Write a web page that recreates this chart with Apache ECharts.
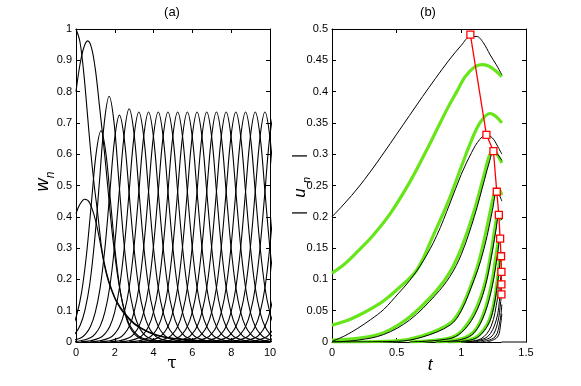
<!DOCTYPE html>
<html>
<head>
<meta charset="utf-8">
<script src="https://cdn.jsdelivr.net/npm/echarts@6/dist/echarts.min.js"></script>
<style>
html,body{margin:0;padding:0;background:#fff;}
#main{width:581px;height:386px;}
</style>
</head>
<body>
<div id="main"></div>
<script>
// (a) 左图 前三条不规则曲线
var tauA=[0,0.2,0.4,0.6,0.74,0.94,1.1,1.3,1.42,1.6,1.8,2.1,2.5,3,3.5,4,4.5,5,6,7,8,10];
var wA=[1,0.96,0.86,0.72,0.62,0.5,0.42,0.31,0.265,0.215,0.175,0.13,0.093,0.06,0.04,0.026,0.017,0.012,0.006,0.003,0.002,0.001];
var tauB=[0,0.2,0.4,0.6,0.8,1.0,1.2,1.46,1.63,1.9,2.2,2.5,2.8,3.2,3.6,4.2,5,10];
var wB=[0.8,0.885,0.94,0.962,0.94,0.87,0.76,0.61,0.5,0.33,0.19,0.1,0.05,0.02,0.008,0.003,0.001,0];
var tauC=[0,0.2,0.45,0.7,1.0,1.3,1.42,1.6,1.8,2.1,2.5,3,3.5,4,4.5,5,6,7,8,10];
var wC=[0.41,0.44,0.456,0.445,0.39,0.3,0.258,0.209,0.17,0.126,0.089,0.057,0.038,0.024,0.016,0.011,0.005,0.003,0.002,0.001];
// 后续脉冲：峰值时刻、峰值、脉冲形状（相对峰值）
var pulsePeak=[1.29,1.71,2.24,2.74,3.24,3.74,4.24,4.74,5.24,5.74,6.24,6.74,7.24,7.74,8.24,8.74,9.24,9.74,10.24,10.74,11.24,11.74,12.24];
var pulseAmp=[0.675,0.785,0.725,0.745,0.735,0.735,0.735,0.735,0.735,0.735,0.735,0.735,0.735,0.735,0.735,0.735,0.735,0.735,0.735,0.735,0.735,0.735,0.735];
var shapeOff=[-3,-2.5,-2,-1.75,-1.5,-1.25,-1,-0.75,-0.5,-0.25,0,0.25,0.5,0.75,1,1.25,1.5,1.75,2,2.5,3];
var shapeVal=[0.001,0.005,0.018,0.035,0.067,0.129,0.236,0.413,0.654,0.894,1,0.894,0.654,0.413,0.236,0.129,0.067,0.035,0.018,0.005,0.001];

// (b) 右图 黑线
var tB1=[0,0.1,0.2,0.3,0.4,0.5,0.6,0.7,0.8,0.9,1.0,1.07,1.12,1.17,1.222,1.27,1.313];
var uB1=[0.2,0.222,0.246,0.273,0.302,0.332,0.362,0.392,0.421,0.449,0.474,0.488,0.488,0.478,0.459,0.443,0.427];
var tB2=[0,0.1,0.2,0.3,0.4,0.515,0.6,0.707,0.81,0.913,1.0,1.08,1.14,1.194,1.24,1.28,1.313];
var uB2=[0.001,0.01,0.022,0.036,0.052,0.078,0.098,0.13,0.17,0.222,0.268,0.303,0.323,0.331,0.326,0.313,0.3];
var tB3=[0,0.2,0.4,0.6,0.8,0.913,1.0,1.1,1.18,1.22,1.248,1.28,1.313];
var uB3=[0,0.003,0.012,0.035,0.075,0.105,0.14,0.2,0.26,0.29,0.305,0.3,0.29];
var tB4=[0,0.5,0.7,0.913,1.0,1.1,1.15,1.2,1.24,1.274,1.3,1.313];
var uB4=[0,0.001,0.008,0.027,0.05,0.1,0.13,0.17,0.21,0.24,0.232,0.225];
var tB5=[0.6,0.9,1.0,1.1,1.18,1.24,1.27,1.29,1.313];
var uB5=[0,0.005,0.015,0.042,0.085,0.145,0.182,0.203,0.195];
var tB6=[0.8,1.0,1.1,1.18,1.24,1.28,1.3,1.313];
var uB6=[0,0.004,0.015,0.045,0.09,0.14,0.165,0.16];
var tB7=[0.9,1.1,1.2,1.25,1.29,1.307,1.313];
var uB7=[0,0.005,0.025,0.055,0.11,0.137,0.135];
var tB8=[1.0,1.15,1.23,1.28,1.31];
var uB8=[0,0.005,0.025,0.07,0.112];
var tB9=[1.05,1.2,1.27,1.3,1.31];
var uB9=[0,0.008,0.035,0.075,0.092];
var tB10=[1.1,1.23,1.28,1.305,1.31];
var uB10=[0,0.008,0.03,0.065,0.076];
var tB11=[1.15,1.26,1.3,1.313];
var uB11=[0,0.008,0.035,0.06];
var tB12=[1.2,1.28,1.305,1.313];
var uB12=[0,0.008,0.03,0.045];
// 绿线
var tG1=[0,0.1,0.2,0.32,0.45,0.6,0.733,0.81,0.9,0.965,1.03,1.1,1.158,1.21,1.26,1.313];
var uG1=[0.11,0.125,0.145,0.171,0.205,0.255,0.307,0.339,0.376,0.4,0.424,0.439,0.443,0.441,0.434,0.424];
var tG2=[0,0.1,0.2,0.3,0.4,0.5,0.656,0.785,0.9,1.0,1.08,1.15,1.222,1.27,1.313];
var uG2=[0.027,0.033,0.042,0.053,0.066,0.083,0.115,0.171,0.225,0.28,0.323,0.352,0.365,0.36,0.35];
var tG3=[0,0.2,0.4,0.6,0.8,0.913,1.0,1.1,1.18,1.222,1.26,1.29,1.313];
var uG3=[0.003,0.006,0.015,0.04,0.08,0.112,0.15,0.21,0.27,0.3,0.303,0.295,0.286];
var tG4=[0,0.5,0.7,0.913,1.0,1.1,1.15,1.2,1.235,1.261,1.29,1.313];
var uG4=[0,0.002,0.01,0.03,0.054,0.105,0.14,0.185,0.22,0.24,0.243,0.235];
var tG5=[0.6,0.9,1.0,1.1,1.18,1.23,1.26,1.28,1.313];
var uG5=[0,0.006,0.017,0.047,0.092,0.143,0.182,0.2,0.195];
var tG6=[0.8,1.0,1.1,1.18,1.24,1.27,1.295,1.313];
var uG6=[0,0.005,0.017,0.05,0.1,0.14,0.163,0.16];
var tG7=[0.9,1.1,1.2,1.25,1.285,1.3,1.313];
var uG7=[0,0.006,0.028,0.06,0.11,0.133,0.13];
// 横轴上的灰线
var tFlat=[1.31,1.5];
var uFlat=[0,0];
// 红线方块标记（各黑线峰值）
var tPeak=[1.07,1.194,1.248,1.274,1.29,1.30,1.307,1.31,1.31,1.31];
var uPeak=[0.491,0.331,0.305,0.24,0.203,0.165,0.137,0.112,0.092,0.076];

function pairs(xs,ys){
	var out=[];
	for(var i=0;i<xs.length;i++){out.push([xs[i],ys[i]]);}
	return out;
}
function line(data,idx,color,width,z){
	return {
		type:'line',
		xAxisIndex:idx,
		yAxisIndex:idx,
		data:data,
		smooth:0.35,
		symbol:'none',
		silent:true,
		z:z||2,
		lineStyle:{color:color,width:width}
	};
}
function axisX(grid,pos,min,max,step,labels){
	return {
		type:'value',gridIndex:grid,position:pos,min:min,max:max,interval:step,
		axisLine:{show:true,onZero:false,lineStyle:{color:'#000',width:1}},
		axisTick:{show:true,inside:true,length:4,lineStyle:{color:'#000'}},
		axisLabel:{show:labels,color:'#000',fontSize:11,fontFamily:'Liberation Sans',margin:5},
		splitLine:{show:false}
	};
}
function axisY(grid,pos,min,max,step,labels){
	return {
		type:'value',gridIndex:grid,position:pos,min:min,max:max,interval:step,
		axisLine:{show:true,onZero:false,lineStyle:{color:'#000',width:1}},
		axisTick:{show:true,inside:true,length:4,lineStyle:{color:'#000'}},
		axisLabel:{show:labels,color:'#000',fontSize:11,fontFamily:'Liberation Sans',margin:4},
		splitLine:{show:false}
	};
}

var series=[];
// 左图
series.push(line(pairs(tauA,wA),0,'#000',1.1));
series.push(line(pairs(tauB,wB),0,'#000',1.1));
series.push(line(pairs(tauC,wC),0,'#000',1.1));
for(var k=0;k<pulsePeak.length;k++){
	var pts=[];
	for(var j=0;j<shapeOff.length;j++){
		pts.push([pulsePeak[k]+shapeOff[j],pulseAmp[k]*shapeVal[j]]);
	}
	series.push(line(pts,0,'#000',1.1));
}
// 右图 绿线在下，黑线在上
series.push(line(pairs(tFlat,uFlat),2,'#808080',2,1));
var greens=[[tG1,uG1],[tG2,uG2],[tG3,uG3],[tG4,uG4],[tG5,uG5],[tG6,uG6],[tG7,uG7]];
greens.forEach(function(g){series.push(line(pairs(g[0],g[1]),2,'#66e619',3.2,2));});
var blacks=[[tB1,uB1],[tB2,uB2],[tB3,uB3],[tB4,uB4],[tB5,uB5],[tB6,uB6],[tB7,uB7],[tB8,uB8],[tB9,uB9],[tB10,uB10],[tB11,uB11],[tB12,uB12]];
blacks.forEach(function(b){series.push(line(pairs(b[0],b[1]),2,'#000',1,3));});
series.push({
	type:'line',xAxisIndex:2,yAxisIndex:2,z:5,silent:true,
	data:pairs(tPeak,uPeak),
	symbol:'rect',symbolSize:7,
	lineStyle:{color:'#ff0000',width:1.3},
	itemStyle:{color:'#fff',borderColor:'#ff0000',borderWidth:1.3}
});

var myChart=echarts.init(document.getElementById('main'),null,{renderer:'canvas'});
var option={
	animation:false,
	backgroundColor:'#fff',
	grid:[
		{left:76,top:29,width:194,height:313},
		{left:332,top:29,width:194,height:313}
	],
	xAxis:[
		axisX(0,'bottom',0,10,2,true),
		axisX(0,'top',0,10,2,false),
		axisX(1,'bottom',0,1.5,0.5,true),
		axisX(1,'top',0,1.5,0.5,false)
	],
	yAxis:[
		axisY(0,'left',0,1,0.1,true),
		axisY(0,'right',0,1,0.1,false),
		axisY(1,'left',0,0.5,0.05,true),
		axisY(1,'right',0,0.5,0.05,false)
	],
	graphic:[
		{type:'text',x:172,y:12,style:{text:'(a)',font:'13px "Liberation Sans"',fill:'#000',align:'center',verticalAlign:'middle'}},
		{type:'text',x:428,y:12,style:{text:'(b)',font:'13px "Liberation Sans"',fill:'#000',align:'center',verticalAlign:'middle'}},
		{type:'text',x:172,y:364,style:{text:'τ',font:'17px "DejaVu Serif"',fill:'#000',align:'center',verticalAlign:'middle'}},
		{type:'text',x:430,y:365,style:{text:'t',font:'italic 17px "Liberation Sans"',fill:'#000',align:'center',verticalAlign:'middle'}},
		{type:'text',x:43,y:185,rotation:Math.PI/2,style:{text:'w',font:'italic 18px "Liberation Sans"',fill:'#000',align:'center',verticalAlign:'middle'}},
		{type:'text',x:51,y:175,rotation:Math.PI/2,style:{text:'n',font:'italic 12px "Liberation Sans"',fill:'#000',align:'center',verticalAlign:'middle'}},
		{type:'text',x:300,y:213,rotation:Math.PI/2,style:{text:'|',font:'16px "Liberation Sans"',fill:'#000',align:'center',verticalAlign:'middle'}},
		{type:'text',x:300,y:193,rotation:Math.PI/2,style:{text:'u',font:'italic 17px "Liberation Sans"',fill:'#000',align:'center',verticalAlign:'middle'}},
		{type:'text',x:307,y:180,rotation:Math.PI/2,style:{text:'n',font:'italic 11px "Liberation Sans"',fill:'#000',align:'center',verticalAlign:'middle'}},
		{type:'text',x:300,y:156,rotation:Math.PI/2,style:{text:'|',font:'16px "Liberation Sans"',fill:'#000',align:'center',verticalAlign:'middle'}}
	],
	series:series
};
myChart.setOption(option);
</script>
</body>
</html>
